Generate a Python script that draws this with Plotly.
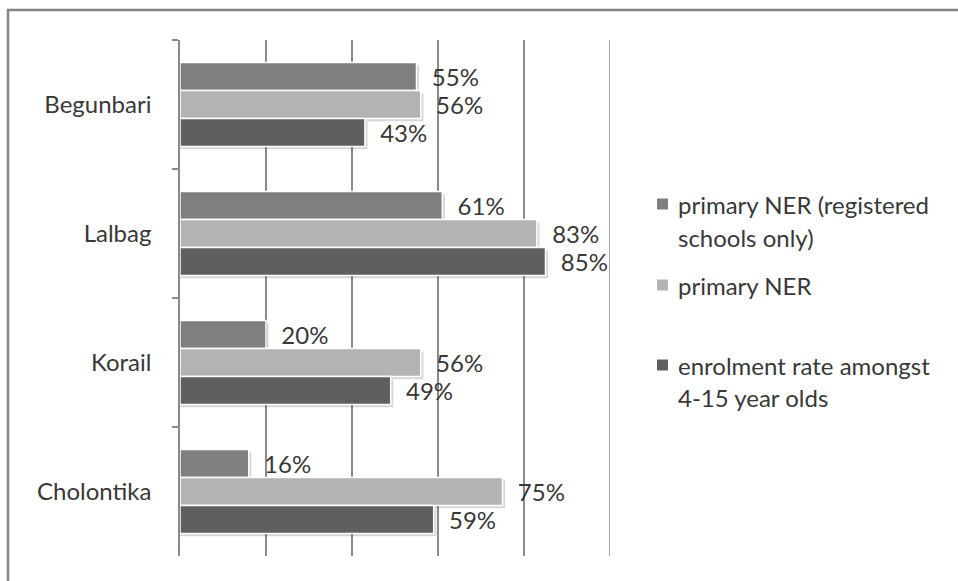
import plotly.graph_objects as go

# Settlements (top to bottom) and the three enrolment measures, in percent
settlements = ["Begunbari", "Lalbag", "Korail", "Cholontika"]
series_names = [
    "primary NER (registered schools only)",
    "primary NER",
    "enrolment rate amongst 4-15 year olds",
]
ner_registered = [55, 61, 20, 16]
ner_primary = [56, 83, 56, 75]
enrolment_4_15 = [43, 85, 49, 59]
x_ticks = [0, 20, 40, 60, 80, 100]

# Legend text, one entry per series (wrapped as displayed)
legend_lines = [
    ["primary NER (registered", "schools only)"],
    ["primary NER"],
    ["enrolment rate amongst", "4-15 year olds"],
]

colors = ["#7f7f7f", "#b3b3b3", "#5f5f5f"]
text_color = "#383838"
grid_color = "#8a8a8a"
font_family = "Lato, 'Open Sans', sans-serif"
font_size = 24

# Figure geometry in pixels
W, H = 958, 581
L, R, T, B = 180, 610, 40, 556


def px_x(px):
    return (px - L) / (R - L)


def px_y(py):
    return (B - py) / (B - T)


values = [ner_registered, ner_primary, enrolment_4_15]
bar_w = 0.217
offsets = [-1.5 * bar_w, -0.5 * bar_w, 0.5 * bar_w]

fig = go.Figure()

# soft drop shadows behind each bar
for vals, off in zip(values, offsets):
    fig.add_trace(go.Bar(
        y=settlements, x=[v + 0.6 for v in vals], orientation="h",
        width=bar_w, offset=off + 0.022,
        marker=dict(color="rgba(0,0,0,0.16)", line=dict(width=0)),
        hoverinfo="skip", showlegend=False,
    ))

for name, vals, off, col in zip(series_names, values, offsets, colors):
    fig.add_trace(go.Bar(
        name=name, y=settlements, x=vals, orientation="h",
        width=bar_w, offset=off,
        marker=dict(color=col, line=dict(color="white", width=1.5)),
        text=[f"\u00a0\u00a0{v}%" for v in vals],
        textposition="outside", constraintext="none", cliponaxis=False,
        textfont=dict(size=font_size, color=text_color, family=font_family),
        showlegend=False,
    ))

shapes = [
    # outer chart frame
    dict(
        type="rect", xref="paper", yref="paper",
        x0=px_x(8), x1=px_x(W + 20), y0=px_y(H + 20), y1=px_y(10),
        line=dict(color="#858585", width=2.5), fillcolor="rgba(0,0,0,0)",
        layer="below",
    ),
    # gridline at the upper end of the value axis
    dict(
        type="line", xref="x", yref="paper",
        x0=x_ticks[-1], x1=x_ticks[-1], y0=0, y1=1,
        line=dict(color=grid_color, width=1.5), layer="below",
    ),
]

# legend drawn at the right
annotations = []
legend_rows = [[204, 237], [285], [365, 397]]
for lines, rows, col in zip(legend_lines, legend_rows, colors):
    sq = 11
    cy = rows[0]
    shapes.append(dict(
        type="rect", xref="paper", yref="paper",
        x0=px_x(657), x1=px_x(657 + sq), y0=px_y(cy + sq / 2), y1=px_y(cy - sq / 2),
        line=dict(width=0), fillcolor=col,
    ))
    for text, row in zip(lines, rows):
        annotations.append(dict(
            xref="paper", yref="paper", x=px_x(676), y=px_y(row),
            xanchor="left", yanchor="middle", text=text, showarrow=False,
            font=dict(size=font_size, color=text_color, family=font_family),
        ))

fig.update_layout(
    width=W, height=H, barmode="overlay",
    margin=dict(l=L, r=W - R, t=T, b=H - B, pad=0),
    paper_bgcolor="white", plot_bgcolor="white",
    font=dict(family=font_family, size=font_size, color=text_color),
    shapes=shapes, annotations=annotations, showlegend=False,
)
fig.update_xaxes(
    range=[0, 100], tickvals=x_ticks, showticklabels=False,
    showgrid=True, gridcolor=grid_color, gridwidth=1.5,
    zeroline=False, showline=False, fixedrange=True,
)
fig.update_yaxes(
    autorange="reversed", categoryorder="array", categoryarray=settlements,
    showgrid=False, zeroline=False,
    showline=True, linecolor=grid_color, linewidth=1.5,
    ticks="outside", tickson="boundaries", ticklen=6, tickcolor=grid_color,
    tickwidth=1.5, ticklabelstandoff=22,
    tickfont=dict(size=font_size, color=text_color, family=font_family),
)

fig.write_html("out.html")
